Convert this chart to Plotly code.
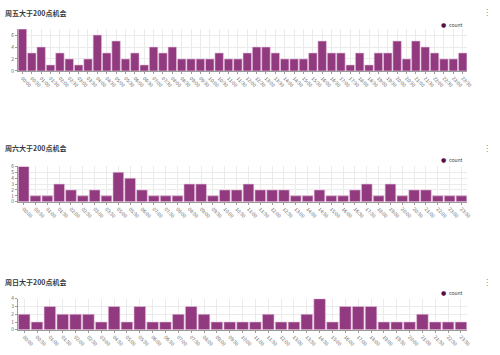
import plotly.graph_objects as go

# ---------------- data ----------------
fri_labels = [f"{h:02d}:{m:02d}" for h in range(24) for m in (0, 30)]
fri_counts = [7, 3, 4, 1, 3, 2, 1, 2, 6, 3, 5, 2, 3, 1, 4, 3, 4, 2, 2, 2, 2, 3, 2, 2,
              3, 4, 4, 3, 2, 2, 2, 3, 5, 3, 3, 1, 3, 1, 3, 3, 5, 2, 5, 4, 3, 2, 2, 3]

sat_labels = ["00:00", "00:30", "01:00", "01:30", "02:00", "02:30", "03:00", "03:30",
              "05:00", "05:30", "06:00", "07:00", "07:30", "08:00", "08:30", "09:00",
              "09:30", "10:00", "10:30", "11:00", "11:30", "12:00", "12:30", "13:00",
              "14:00", "14:30", "15:00", "16:00", "16:30", "17:30", "18:00", "19:00",
              "20:00", "20:30", "21:00", "22:00", "23:00", "23:30"]
sat_counts = [6, 1, 1, 3, 2, 1, 2, 1, 5, 4, 2, 1, 1, 1, 3, 3, 1, 2, 2, 3,
              2, 2, 2, 1, 1, 2, 1, 1, 2, 3, 1, 3, 1, 2, 2, 1, 1, 1]

sun_labels = ["00:00", "00:30", "01:00", "01:30", "02:00", "02:30", "03:00", "04:30",
              "05:00", "05:30", "06:00", "06:30", "07:00", "07:30", "08:00", "09:00",
              "09:30", "10:00", "11:00", "11:30", "12:00", "13:00", "13:30", "14:30",
              "15:00", "16:00", "17:00", "18:00", "19:00", "19:30", "20:00", "21:00",
              "21:30", "22:30", "23:30"]
sun_counts = [2, 1, 3, 2, 2, 2, 1, 3, 1, 3, 1, 1, 2, 3, 2, 1, 1, 1,
              1, 2, 1, 1, 2, 4, 1, 3, 3, 3, 1, 1, 1, 2, 1, 1, 1]

titles = ["周五大于200点机会", "周六大于200点机会", "周日大于200点机会"]
y_max = [7, 6, 4]
y_dtick = [2, 1, 1]

# ---------------- style / layout ----------------
W, H = 500, 355
BAR = "#923a80"
BAR_EDGE = "#e6c3dc"
DOT = "#5a0d47"
GRID = "#ebebeb"
AXIS = "#9a9a9a"
TICK = "#5e5e5e"

def py(px):
    return 1 - px / H

x_dom = [18 / W, 474 / W]
y_doms = [[py(68.3), py(25.6)], [py(201.7), py(165.7)], [py(332.3), py(300.7)]]
title_y = [9, 147, 284]
legend_y = [20.5, 159, 294]
menu_y = [9, 147, 284]

fig = go.Figure()
datasets = [(fri_labels, fri_counts), (sat_labels, sat_counts), (sun_labels, sun_counts)]

layout = dict(
    width=W, height=H, margin=dict(l=0, r=0, t=0, b=0),
    paper_bgcolor="white", plot_bgcolor="white",
    showlegend=False, bargap=0.1,
    font=dict(family="Noto Sans CJK SC, Noto Sans, sans-serif", color=TICK, size=5),
)
annotations = []

for i, (labels, counts) in enumerate(datasets):
    sfx = "" if i == 0 else str(i + 1)
    fig.add_trace(go.Bar(
        x=labels, y=counts, name="count",
        marker=dict(color=BAR, line=dict(color=BAR_EDGE, width=0.6)),
        xaxis="x" + sfx, yaxis="y" + sfx,
    ))
    layout["xaxis" + sfx] = dict(
        domain=x_dom, anchor="y" + sfx, type="category",
        showgrid=True, gridcolor=GRID, gridwidth=0.6,
        showline=True, linecolor=AXIS, linewidth=0.6,
        ticks="outside", ticklen=2, tickcolor=AXIS, tickwidth=0.5,
        tickangle=45, tickfont=dict(size=4.8, color=TICK),
    )
    layout["yaxis" + sfx] = dict(
        domain=y_doms[i], anchor="x" + sfx, range=[0, y_max[i]],
        dtick=y_dtick[i], showgrid=True, gridcolor=GRID, gridwidth=0.6,
        showline=True, linecolor=AXIS, linewidth=0.6, zeroline=False,
        ticks="outside", ticklen=2, tickcolor=AXIS, tickwidth=0.5,
        tickfont=dict(size=4.8, color=TICK),
    )
    annotations.append(dict(
        text="<b>" + titles[i] + "</b>", xref="paper", yref="paper",
        x=3 / W, y=py(title_y[i]), xanchor="left", yanchor="middle",
        showarrow=False, font=dict(size=7, color="#3a3a3a"),
    ))
    annotations.append(dict(
        text="●", xref="paper", yref="paper",
        x=450 / W, y=py(legend_y[i]), xanchor="center", yanchor="middle",
        showarrow=False, font=dict(size=6, color=DOT, family="DejaVu Sans"),
    ))
    annotations.append(dict(
        text="count", xref="paper", yref="paper",
        x=453.5 / W, y=py(legend_y[i]), xanchor="left", yanchor="middle",
        showarrow=False, font=dict(size=5, color="#444444"),
    ))
    annotations.append(dict(
        text="⋮", xref="paper", yref="paper",
        x=494 / W, y=py(menu_y[i]), xanchor="center", yanchor="middle",
        showarrow=False, font=dict(size=8, color="#888888", family="DejaVu Sans"),
    ))

layout["annotations"] = annotations
fig.update_layout(**layout)
fig.write_html("out.html")
